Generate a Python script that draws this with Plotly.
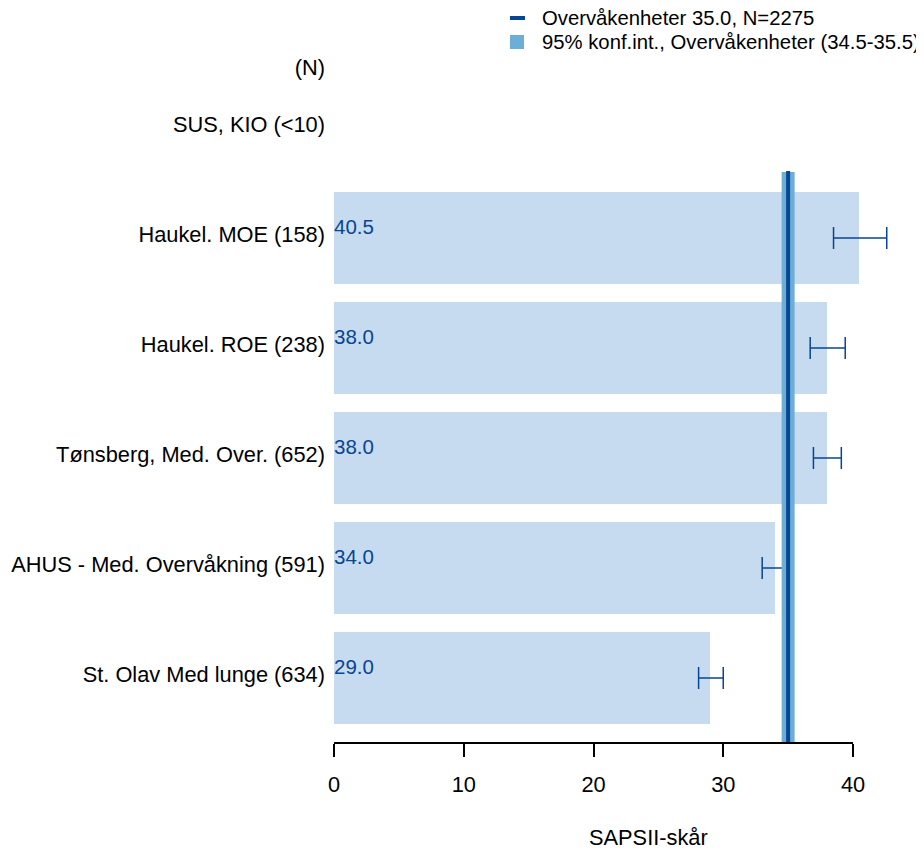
import plotly.graph_objects as go

# ---- data ----
categories = ["SUS, KIO (<10)", "Haukel. MOE (158)", "Haukel. ROE (238)",
              "Tønsberg, Med. Over. (652)", "AHUS - Med. Overvåkning (591)",
              "St. Olav Med lunge (634)"]
values = [None, 40.5, 38.0, 38.0, 34.0, 29.0]
ci_low = [None, 38.5, 36.7, 36.95, 33.0, 28.1]
ci_high = [None, 42.6, 39.4, 39.1, 35.0, 30.0]
overall_mean = 35.0
overall_ci = (34.5, 35.5)
overall_n = 2275
header_label = "(N)"
x_ticks = [0, 10, 20, 30, 40]
x_title = "SAPSII-skår"

# ---- styling ----
FONT = "Liberation Sans, Arial, sans-serif"
FS = 21.8
LEG_FS = 20.3
BAR_COL = "#C6DBEF"
BAND_COL = "#6BAED6"
LINE_COL = "#084594"

OFF = 8  # page body margin in the browser
W, H = 924 - OFF, 853 - OFF
ML, MR, MT, MB = 334 - OFF, 19, 60 - OFF, 853 - 743
PW, PH = W - ML - MR, H - MT - MB

def px_x(px):
    return (px - OFF - ML) / PW

def px_y(py):
    return (H - MB - (py - OFF)) / PH

n = len(categories)
pos = [n - 1 - i for i in range(n)]  # top category highest
bar_pos = [p for p, v in zip(pos, values) if v is not None]
bar_val = [v for v in values if v is not None]
err_plus = [h - v for v, h in zip(values, ci_high) if v is not None]
err_minus = [v - l for v, l in zip(values, ci_low) if v is not None]

header_pos = pos[0] + 0.52

fig = go.Figure()
fig.add_trace(go.Bar(
    x=bar_val, y=bar_pos, orientation="h", width=0.836,
    marker=dict(color=BAR_COL, line=dict(width=0)),
    showlegend=False, hoverinfo="skip",
))

# band & mean line
fig.add_shape(type="rect", x0=overall_ci[0], x1=overall_ci[1], y0=-0.59, y1=bar_pos[0] + 0.6,
              xref="x", yref="y", fillcolor=BAND_COL, line=dict(width=0), layer="above")
fig.add_shape(type="line", x0=overall_mean, x1=overall_mean, y0=-0.59, y1=bar_pos[0] + 0.61,
              xref="x", yref="y", line=dict(color=LINE_COL, width=4), layer="above")

# error bars (on top)
fig.add_trace(go.Scatter(
    x=bar_val, y=bar_pos, mode="markers", marker=dict(size=0.1, opacity=0),
    error_x=dict(type="data", symmetric=False, array=err_plus, arrayminus=err_minus,
                 color=LINE_COL, thickness=1.5, width=11),
    showlegend=False, hoverinfo="skip",
))

# value labels
for p, v in zip(bar_pos, bar_val):
    fig.add_annotation(x=0, y=p + 0.11, text=f"{v:.1f}", showarrow=False,
                       xanchor="left", yanchor="middle", xshift=-2,
                       font=dict(color=LINE_COL, size=20.5, family=FONT))

# axis line only from first to last tick
fig.add_shape(type="line", x0=x_ticks[0], x1=x_ticks[-1], y0=0, y1=0, xref="x", yref="paper",
              line=dict(color="black", width=2))

# x title
fig.add_annotation(x=px_x(648.5), y=px_y(837), xref="paper", yref="paper", text=x_title,
                   showarrow=False, xanchor="center", yanchor="middle",
                   font=dict(size=FS, family=FONT, color="black"))

# manual legend (symbols + text)
leg_text = [f"Overvåkenheter {overall_mean:.1f}, N={overall_n}",
            f"95% konf.int., Overvåkenheter ({overall_ci[0]}-{overall_ci[1]})"]
fig.add_shape(type="line", xref="paper", yref="paper", x0=px_x(510), x1=px_x(525),
              y0=px_y(18), y1=px_y(18), line=dict(color=LINE_COL, width=4))
fig.add_shape(type="rect", xref="paper", yref="paper", x0=px_x(510), x1=px_x(524),
              y0=px_y(35), y1=px_y(49), fillcolor=BAND_COL, line=dict(width=0))
for i, t in enumerate(leg_text):
    fig.add_annotation(x=px_x(540), y=px_y(18 + 24 * i), xref="paper", yref="paper", text=t,
                       showarrow=False, xanchor="left", yanchor="middle",
                       font=dict(size=LEG_FS, family=FONT, color="black"))

fig.update_layout(
    width=W, height=H,
    margin=dict(l=ML, r=MR, t=MT, b=MB, autoexpand=False),
    paper_bgcolor="white", plot_bgcolor="white",
    font=dict(family=FONT, size=FS, color="black"),
    showlegend=False,
    xaxis=dict(range=[0, PW / 12.975], tickvals=x_ticks, ticks="outside", ticklen=13, tickwidth=2,
               tickcolor="black", showline=False, showgrid=False, zeroline=False,
               tickfont=dict(size=FS), ticklabelstandoff=9, automargin=False),
    yaxis=dict(range=[-0.59, -0.59 + PH / 110], tickvals=pos + [header_pos],
               ticktext=categories + [header_label], showgrid=False, zeroline=False,
               showline=False, ticks="", tickfont=dict(size=FS), ticklabelstandoff=8,
               ticklabelshift=-4, automargin=False),
    bargap=0,
)

fig.write_html("out.html")
